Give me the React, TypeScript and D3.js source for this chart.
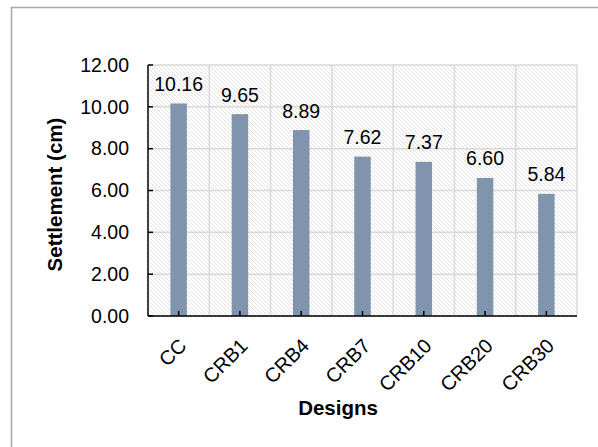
import React from "react";
import * as d3 from "d3";

const designs = ["CC", "CRB1", "CRB4", "CRB7", "CRB10", "CRB20", "CRB30"];
const settlement = [10.16, 9.65, 8.89, 7.62, 7.37, 6.6, 5.84];
const yTicks = [0, 2, 4, 6, 8, 10, 12];

const W = 598;
const H = 447;
const plot = { left: 148, right: 577, top: 65, bottom: 316 };
const FONT = "'Liberation Sans', Arial, sans-serif";

export default function App() {
  const x = d3
    .scaleBand<string>()
    .domain(designs)
    .range([plot.left, plot.right])
    .paddingInner(0)
    .paddingOuter(0);
  const y = d3.scaleLinear().domain([0, 12]).range([plot.bottom, plot.top]);
  const barW = 16.5;
  const bw = x.bandwidth();

  return (
    <svg
      width={W}
      height={H}
      style={{ position: "absolute", left: 0, top: 0, background: "#fff" }}
      fontFamily={FONT}
    >
      <defs>
        <pattern id="hatch" patternUnits="userSpaceOnUse" width={4} height={4}>
          <rect width={4} height={4} fill="#ffffff" />
          <path
            d="M-1,-1 L5,5 M-1,3 L1,5 M3,-1 L5,1"
            stroke="#dadada"
            strokeWidth={0.8}
          />
        </pattern>
      </defs>

      {/* outer frame */}
      <rect x={11.5} y={7.5} width={W} height={H} fill="none" stroke="#a9a9a9" strokeWidth={1.5} />

      {/* hatched plot background */}
      <rect
        x={plot.left}
        y={plot.top}
        width={plot.right - plot.left}
        height={plot.bottom - plot.top}
        fill="url(#hatch)"
      />

      {/* gridlines */}
      {yTicks.map((t) => (
        <line
          key={"gy" + t}
          x1={plot.left}
          x2={plot.right}
          y1={y(t)}
          y2={y(t)}
          stroke="#d9d9d9"
          strokeWidth={1.5}
        />
      ))}
      {designs.map((d) => (
        <line
          key={"gx" + d}
          x1={(x(d) as number) + bw}
          x2={(x(d) as number) + bw}
          y1={plot.top}
          y2={plot.bottom}
          stroke="#d9d9d9"
          strokeWidth={1.5}
        />
      ))}

      {/* bars */}
      {designs.map((d, i) => {
        const cx = (x(d) as number) + bw / 2;
        return (
          <rect
            key={"b" + d}
            x={cx - barW / 2}
            y={y(settlement[i])}
            width={barW}
            height={plot.bottom - y(settlement[i])}
            fill="#8194ae"
          />
        );
      })}

      {/* value labels */}
      {designs.map((d, i) => {
        const cx = (x(d) as number) + bw / 2;
        return (
          <text
            key={"v" + d}
            x={cx}
            y={y(settlement[i]) - 12.5}
            textAnchor="middle"
            fontSize={19.5}
            fill="#000"
          >
            {settlement[i].toFixed(2)}
          </text>
        );
      })}

      {/* y axis */}
      <line x1={plot.left} x2={plot.left} y1={plot.top} y2={plot.bottom} stroke="#000" strokeWidth={1.5} />
      {yTicks.map((t) => (
        <g key={"ty" + t}>
          <line x1={plot.left} x2={plot.left + 5} y1={y(t)} y2={y(t)} stroke="#000" strokeWidth={1.5} />
          <text x={129} y={y(t)} dy="0.35em" textAnchor="end" fontSize={19.5} fill="#000">
            {t.toFixed(2)}
          </text>
        </g>
      ))}

      {/* x axis */}
      <line x1={plot.left} x2={plot.right} y1={plot.bottom} y2={plot.bottom} stroke="#000" strokeWidth={1.5} />
      {designs.map((d) => {
        const cx = (x(d) as number) + bw / 2;
        return (
          <g key={"tx" + d}>
            <line x1={cx} x2={cx} y1={plot.bottom} y2={plot.bottom - 5} stroke="#000" strokeWidth={1.5} />
            <text
              transform={`translate(${cx - 1},${plot.bottom + 21}) rotate(-45)`}
              dy="0.71em"
              textAnchor="end"
              fontSize={20}
              fill="#000"
            >
              {d}
            </text>
          </g>
        );
      })}

      {/* axis titles */}
      <text
        transform={`translate(54.5,${(plot.top + plot.bottom) / 2 + 4}) rotate(-90)`}
        dy="0.35em"
        textAnchor="middle"
        fontSize={20.5}
        fontWeight="bold"
        fill="#000"
      >
        Settlement (cm)
      </text>
      <text x={338} y={415} textAnchor="middle" fontSize={20.5} fontWeight="bold" fill="#000">
        Designs
      </text>
    </svg>
  );
}
